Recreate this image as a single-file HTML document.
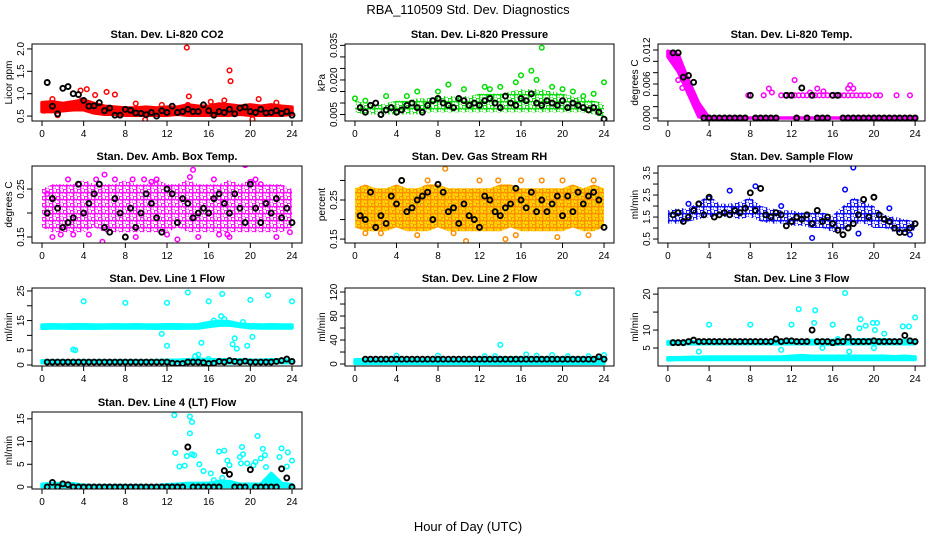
<!DOCTYPE html>
<html><head><meta charset="utf-8"><style>
html,body{margin:0;padding:0;background:#fff;}
svg{display:block;font-family:"Liberation Sans",sans-serif;}
</style></head><body>
<svg id="chart" width="936" height="540" viewBox="0 0 936 540" xmlns="http://www.w3.org/2000/svg">
<text x="468" y="14" text-anchor="middle" font-size="13">RBA_110509  Std. Dev. Diagnostics</text>
<text x="468" y="531" text-anchor="middle" font-size="13">Hour of Day (UTC)</text>
</svg>
<script>
// ---- shared data ----
const xTicks = [0,4,8,12,16,20,24];
const blackHours = [0.5,1,1.5,2,2.5,3,3.5,4,4.5,5,5.5,6,6.5,7,7.5,8,8.5,9,9.5,10,10.5,11,11.5,12,12.5,13,13.5,14,14.5,15,15.5,16,16.5,17,17.5,18,18.5,19,19.5,20,20.5,21,21.5,22,22.5,23,23.5,24];
const bandHours = [0,1,2,3,4,5,6,7,8,9,10,11,12,13,14,15,16,17,18,19,20,21,22,23,24];

// CO2
const co2Ticks = [0.5,1.0,1.5,2.0];
const co2TickLabels = ["0.5","1.0","1.5","2.0"];
const co2BandLo = [0.6,0.6,0.62,0.64,0.64,0.57,0.54,0.54,0.52,0.52,0.52,0.52,0.52,0.54,0.52,0.52,0.52,0.52,0.52,0.54,0.52,0.52,0.52,0.52,0.54];
const co2BandHi = [0.8,0.82,0.78,0.82,0.86,0.78,0.72,0.7,0.68,0.68,0.7,0.68,0.7,0.7,0.75,0.72,0.72,0.77,0.75,0.72,0.75,0.72,0.75,0.72,0.7];
const co2PtX = [13.9,14.1,18.0,18.1,5.1,6.2,4.3,3.7,20.8,9.9,20.2,3.8,7.0,1.5,17.5,14.0,11.5,0.2,1.0,22.5,16.2,9.0];
const co2PtY = [2.03,0.94,1.52,1.28,0.97,1.04,1.1,1.07,0.88,0.42,0.43,0.85,0.98,0.52,0.85,0.75,0.75,0.62,0.88,0.8,0.82,0.78];
const co2Black = [1.25,0.72,0.55,1.12,1.16,1.0,0.98,0.85,0.72,0.73,0.8,0.62,0.68,0.52,0.52,0.65,0.63,0.57,0.56,0.53,0.58,0.5,0.62,0.58,0.72,0.58,0.6,0.65,0.6,0.6,0.75,0.62,0.52,0.6,0.58,0.65,0.55,0.68,0.7,0.6,0.58,0.65,0.57,0.58,0.62,0.56,0.6,0.52];

// Pressure
const presTicks = [0.005,0.010,0.015,0.020,0.025,0.030,0.035];
const presTickLabels = ["0.005","","","0.020","","","0.035"];
const presBandLo = [0.006,0.005,0.005,0.005,0.005,0.005,0.005,0.006,0.006,0.006,0.006,0.006,0.006,0.006,0.006,0.006,0.006,0.006,0.006,0.006,0.006,0.006,0.006,0.005,0.004];
const presBandHi = [0.011,0.01,0.009,0.01,0.011,0.011,0.012,0.012,0.013,0.013,0.013,0.013,0.014,0.014,0.014,0.015,0.016,0.016,0.016,0.015,0.014,0.013,0.012,0.011,0.01];
const presPtX = [18,17,16,24,9,12.5,6,20,14,22,0,17.5,15.5,19,3,10.5,21,8,23,13,5,1];
const presPtY = [0.034,0.024,0.022,0.019,0.018,0.017,0.015,0.016,0.017,0.013,0.012,0.02,0.019,0.017,0.013,0.016,0.015,0.015,0.014,0.016,0.013,0.011];
const presBlack = [0.008,0.006,0.009,0.01,0.005,0.007,0.008,0.006,0.007,0.009,0.01,0.008,0.006,0.009,0.011,0.012,0.01,0.009,0.008,0.012,0.011,0.009,0.01,0.009,0.011,0.012,0.01,0.008,0.013,0.01,0.009,0.012,0.011,0.014,0.01,0.009,0.011,0.01,0.009,0.011,0.008,0.01,0.009,0.008,0.007,0.008,0.006,0.003];

// Li-820 Temp
const tempTicks = [0,0.002,0.004,0.006,0.008,0.010,0.012];
const tempTickLabels = ["0.000","","","0.006","","","0.012"];
const tempBandLo = [0.0108,0.0082,0.0042,0.0002,0,0,0,0,0,0,0,0,0,0,0,0,0,0,0,0,0,0,0,0,0];
const tempBandHi = [0.0118,0.0112,0.0066,0.0026,0,0,0,0,0,0,0,0,0,0,0,0,0,0,0,0,0,0,0,0,0];
const tempPtX = [7.8,9.3,11,11.4,11.8,12.3,12.7,13.1,13.5,13.9,14.3,14.7,15.1,15.5,15.9,16.3,16.7,17.1,17.5,17.9,18.3,18.7,19.1,19.5,20.2,20.6,22.2,23.5,12.3,9.8,10.1,14.5,15.1,13.8,17.5,17.7,18,1.0,1.4,1.9];
const tempPtY = [0.004,0.004,0.004,0.004,0.004,0.004,0.004,0.004,0.004,0.004,0.004,0.004,0.004,0.004,0.004,0.004,0.004,0.004,0.004,0.004,0.004,0.004,0.004,0.004,0.004,0.004,0.004,0.004,0.0067,0.0052,0.0045,0.0052,0.0047,0.0045,0.0052,0.0058,0.0052,0.0067,0.0053,0.0056];
const tempBlack = [0.0115,0.0115,0.0072,0.0075,0.0063,null,0,0,0,0,0,0,0,0,0,0.004,0,0,0,0,0,null,0.004,0.004,0,0.0053,0,0.004,0,0,0,0.004,0.004,0,0,0,0,0,0,0,0,0,0,0,0,0,0,0];

// Amb Box Temp
const ambTicks = [0.15,0.20,0.25];
const ambTickLabels = ["0.15","","0.25"];
const ambBandLo = [0.17,0.16,0.16,0.16,0.16,0.17,0.16,0.16,0.16,0.16,0.16,0.16,0.16,0.17,0.16,0.16,0.16,0.16,0.16,0.16,0.16,0.16,0.16,0.16,0.17];
const ambBandHi = [0.25,0.26,0.26,0.26,0.27,0.26,0.26,0.26,0.27,0.26,0.26,0.27,0.26,0.26,0.27,0.26,0.26,0.26,0.27,0.26,0.27,0.26,0.26,0.26,0.25];
const ambPtX = [6,5.8,1,1.8,3,4.5,7,8.7,9.8,10.5,13,14.5,14.2,15,17,18,19.5,20.5,21,22.5,23.8,12,16.5,11,9,2.5,0.5,5.2,17.8,20];
const ambPtY = [0.28,0.14,0.15,0.155,0.155,0.155,0.27,0.27,0.27,0.265,0.145,0.29,0.275,0.15,0.155,0.15,0.3,0.27,0.26,0.15,0.16,0.155,0.27,0.27,0.15,0.27,0.24,0.27,0.155,0.265];
const ambBlack = [0.2,0.23,0.21,0.17,0.18,0.19,0.26,0.2,0.22,0.24,0.26,0.17,0.16,0.23,0.2,0.15,0.21,0.17,0.2,0.24,0.22,0.19,0.16,0.25,0.24,0.18,0.23,0.22,0.19,0.2,0.21,0.2,0.23,0.24,0.22,0.2,0.24,0.21,0.18,0.26,0.21,0.18,0.22,0.2,0.23,0.19,0.21,0.18];

// Gas Stream RH
const rhTicks = [0.15,0.20,0.25,0.30];
const rhTickLabels = ["0.15","","0.25",""];
const rhBandLo = [0.18,0.17,0.17,0.17,0.18,0.17,0.17,0.17,0.18,0.17,0.17,0.17,0.17,0.17,0.17,0.18,0.17,0.17,0.17,0.17,0.17,0.18,0.17,0.17,0.18];
const rhBandHi = [0.28,0.29,0.28,0.28,0.29,0.28,0.28,0.29,0.29,0.28,0.28,0.28,0.28,0.28,0.29,0.29,0.28,0.28,0.28,0.28,0.28,0.29,0.28,0.29,0.28];
const rhPtX = [8.7,10.7,14.5,15.5,19.5,1,4.5,12,16,7,20,22.5,2.5,6,18,13.8,9.5,23];
const rhPtY = [0.33,0.145,0.15,0.16,0.155,0.165,0.3,0.3,0.3,0.3,0.3,0.16,0.165,0.16,0.3,0.3,0.165,0.3];
const rhBlack = [0.21,0.2,0.27,0.18,0.21,0.19,0.26,0.24,0.3,0.22,0.23,0.25,0.26,0.27,0.2,0.29,0.27,0.22,0.23,0.19,0.24,0.21,0.2,0.18,0.26,0.25,0.22,0.21,0.23,0.24,0.28,0.25,0.23,0.27,0.22,0.25,0.22,0.24,0.26,0.21,0.26,0.22,0.27,0.24,0.26,0.27,0.25,0.18];

// Sample Flow
const sfTicks = [0.5,1.0,1.5,2.0,2.5,3.0,3.5];
const sfTickLabels = ["0.5","","1.5","","2.5","","3.5"];
const sfBandLo = [1.2,1.2,1.3,1.4,1.5,1.5,1.5,1.4,1.5,1.3,1.2,1.2,1.1,1.1,1.0,1.0,0.8,0.9,1.2,1.2,1.0,1.0,0.8,0.8,0.9];
const sfBandHi = [1.8,1.9,1.9,2.2,2.5,2.1,2.1,2.2,2.4,2.0,1.9,1.8,1.8,1.7,1.7,1.7,1.6,2.0,2.4,2.2,2.0,1.6,1.5,1.4,1.3];
const sfPtX = [18,6,17.2,8.5,14,18.5,11,21.5,2,23.5];
const sfPtY = [3.75,2.7,2.75,2.9,0.55,0.75,2.0,1.9,2.1,0.7];
const sfBlack = [1.6,1.7,1.3,1.5,1.8,2.1,1.6,2.4,1.5,1.6,1.7,1.6,1.8,1.7,1.9,2.6,1.8,2.8,1.6,1.5,1.7,1.6,1.1,1.3,1.5,1.4,1.6,1.2,1.8,1.3,1.5,1.2,0.9,0.7,1.0,1.2,1.6,2.3,1.5,2.4,1.6,1.4,1.3,1.0,0.8,0.8,1.0,1.2];

// Line 1 Flow
const l1Ticks = [0,5,10,15,20,25];
const l1TickLabels = ["0","5","","15","","25"];
const l1BandLo = [12.4,12.5,12.5,12.4,12.5,12.4,12.5,12.5,12.5,12.5,12.5,12.4,12.5,12.4,12.5,12.5,13.0,13.4,13.5,13.0,12.6,12.5,12.5,12.5,12.5];
const l1BandHi = [13.5,13.6,13.5,13.6,13.6,13.5,13.5,13.6,13.5,13.6,13.5,13.5,13.6,13.6,13.5,13.6,14.3,14.8,14.6,13.8,13.6,13.5,13.6,13.5,13.5];
const l1Band2Lo = [0.8,0.8,0.8,0.8,0.8,0.8,0.8,0.8,0.8,0.8,0.8,0.8,0.8,0.7,0.7,0.7,0.7,0.7,0.7,0.7,0.8,0.8,0.8,0.8,0.8];
const l1Band2Hi = [1.4,1.4,1.4,1.4,1.4,1.4,1.4,1.4,1.4,1.4,1.4,1.5,1.6,1.6,1.8,2.0,1.8,1.8,1.8,1.8,1.6,1.6,1.8,1.8,1.6];
const l1PtX = [4,8,12,14,16,17.3,20,21.7,24,12,3.2,3,15.3,16.5,17.2,17.5,18.5,18.3,18.7,19.7,20.2,19.3,11.5,15,14.7,16];
const l1PtY = [21.5,21,21,24.5,21.5,24,22,23.5,21.5,6.5,5,5.2,7.5,15,16.5,15.5,9,7,5.5,6.5,9.5,14.5,10.5,3.5,3,2];
const l1Black = [1,1,1,1,1,1,1,1,1,1,1,1,1,1,1,1,1,1,1,1,1,1,1,1,0.6,0.5,0.5,1,1,1,0.8,0.5,0.6,1.2,1,1.5,1.2,1,1.3,1,1,1,1,1,1.2,1.5,2,1.2];

// Line 2 Flow
const l2Ticks = [0,20,40,60,80,100,120];
const l2TickLabels = ["0","","40","","80","","120"];
const l2BandLo = [1,1,1,1,1,1,1,1,1,1,1,1,1,1,1,1,1,1,1,1,1,1,1,1,1];
const l2BandHi = [7,7,7,7,7,7,7,7,7,7,7,7,9,9,10,10,10,10,10,10,10,10,10,10,11];
const l2PtX = [21.5,14,16.5,4,8,19,24,12.5,13.5,17.5,20.5,22.5];
const l2PtY = [118,32,16,14,14,15,15,13,13,14,13,13];
const l2Black = [null,8,8,8,8,8,8,8,8,8,8,8,8,8,8,8,8,8,8,8,8,8,8,8,8,8,8,8,8,8,8,8,8,8,8,8,8,8,8,8,8,8,8,8,8,8,12,8];

// Line 3 Flow
const l3Ticks = [5,10,15,20];
const l3TickLabels = ["5","10","","20"];
const l3BandLo = [6.1,6.2,6.2,6.2,6.2,6.2,6.2,6.2,6.2,6.2,6.2,6.2,6.2,6.2,6.2,6.2,6.0,6.2,6.2,6.2,6.2,6.2,6.2,6.2,6.2];
const l3BandHi = [6.8,6.8,6.8,6.8,6.8,6.8,6.8,6.8,6.8,6.8,6.8,7.0,7.0,7.1,7.1,7.1,7.1,7.3,7.3,7.3,7.3,7.3,7.1,7.1,7.1];
const l3Band2Lo = [1.7,1.8,1.8,1.8,1.8,1.8,1.8,1.8,1.8,1.8,1.8,1.8,1.8,1.8,1.8,1.8,1.8,1.8,1.8,1.8,1.8,1.8,1.8,1.8,1.8];
const l3Band2Hi = [2.3,2.3,2.4,2.4,2.5,2.5,2.5,2.5,2.5,2.5,2.5,2.5,2.7,2.9,2.7,2.7,2.7,2.7,2.7,2.7,2.7,2.7,2.6,2.7,2.5];
const l3PtX = [4,8,12,12.7,14.3,14.2,16,17.2,18.7,19.2,19.9,20.3,20.1,18.6,22.8,23.4,24,3,11,15,16.5,17.6,20,21];
const l3PtY = [11.5,11.5,11.5,15.8,15.5,12,11.5,20.3,13,11.2,12,12,10,10.5,11,11,13.5,4,4.5,5,7.5,4,5,9];
const l3Black = [6.5,6.5,6.5,6.8,7.2,6.8,6.8,6.8,6.8,6.8,6.8,6.8,6.8,6.8,6.8,6.8,6.8,6.8,6.8,6.8,7.5,6.8,7,7,6.8,6.8,6.8,10,6.8,6.8,6.8,6.5,6.8,6.8,8,6.8,6.8,6.8,6.8,7,6.8,6.8,6.8,6.8,6.8,8.5,7,6.8];

// Line 4 (LT) Flow
const l4Ticks = [0,5,10,15];
const l4TickLabels = ["0","5","10","15"];
const l4BandLo = [0.1,0.1,0.1,0.1,0.1,0.1,0.1,0.1,0.1,0.1,0.1,0.1,0.1,0.1,0.1,0.1,0.1,0.1,0.1,0.1,0.1,0.1,0.1,0.1,0.1];
const l4BandHi = [0.6,0.8,0.7,0.7,0.4,0.3,0.3,0.3,0.3,0.3,0.3,0.3,0.5,0.6,0.8,0.8,0.8,1.2,1.2,0.6,0.6,0.6,3.0,0.8,0.5];
const l4PtX = [12.7,14.2,14.4,14.2,12.8,13.2,13.7,13.9,14.4,14.6,15.1,15.5,16.2,17,17.5,17.8,18,19,19.2,19.3,19.1,19.7,20.3,20.5,20.7,21,21.2,21.4,21.5,21.7,22.8,23,23.5,23.6,24,17.3,16.5];
const l4PtY = [15.8,15.5,14.3,11.8,7.5,4.5,4.7,6.8,7.2,7,5,3.5,3,7.8,8,5.8,4.8,6.6,8.8,7.2,5.2,5.2,4.8,5.5,11.2,6.3,8.4,7,4.4,1.2,6.6,8.5,4.5,7.6,5.8,2,1.5];
const l4Black = [0,1.0,0,0.7,0.5,0,0,0,0,0,0,0,0,0,0,0,0,0,0,0,0,0,0,0,0,0,0,8.8,0,0,0,0,0,0,3.6,2.8,0,0,0,3.8,0,0,0,0,0,4.0,2.0,0];

// ---- layout (not data) ----
const colX = [[32,302],[345,614],[658,925]];
const rowY = [[44,121],[166,243],[288,366],[412,489]];
const panels = [
 {name:"li820-co2",title:"Stan. Dev. Li-820 CO2",ylab:"Licor ppm",c:0,r:0,ylim:[0.39,2.11],ticks:co2Ticks,labels:co2TickLabels,bands:[[co2BandLo,co2BandHi]],px:co2PtX,py:co2PtY,black:co2Black,col:"#ff0000",pat:false},
 {name:"li820-pressure",title:"Stan. Dev. Li-820 Pressure",ylab:"kPa",c:1,r:0,ylim:[0.0022,0.0356],ticks:presTicks,labels:presTickLabels,bands:[[presBandLo,presBandHi]],px:presPtX,py:presPtY,black:presBlack,col:"#00dd00",pat:true},
 {name:"li820-temp",title:"Stan. Dev. Li-820 Temp.",ylab:"degrees C",c:2,r:0,ylim:[-0.00053,0.01306],ticks:tempTicks,labels:tempTickLabels,bands:[[tempBandLo,tempBandHi]],px:tempPtX,py:tempPtY,black:tempBlack,col:"#ff00ff",pat:false},
 {name:"amb-box-temp",title:"Stan. Dev. Amb. Box Temp.",ylab:"degrees C",c:0,r:1,ylim:[0.1375,0.298],ticks:ambTicks,labels:ambTickLabels,bands:[[ambBandLo,ambBandHi]],px:ambPtX,py:ambPtY,black:ambBlack,col:"#ff00ff",pat:true},
 {name:"gas-stream-rh",title:"Stan. Dev. Gas Stream RH",ylab:"percent",c:1,r:1,ylim:[0.14,0.337],ticks:rhTicks,labels:rhTickLabels,bands:[[rhBandLo,rhBandHi]],px:rhPtX,py:rhPtY,black:rhBlack,col:"#ff8c00",pat:true,fill:"#ffd700"},
 {name:"sample-flow",title:"Stan. Dev. Sample Flow",ylab:"ml/min",c:2,r:1,ylim:[0.32,3.82],ticks:sfTicks,labels:sfTickLabels,bands:[[sfBandLo,sfBandHi]],px:sfPtX,py:sfPtY,black:sfBlack,col:"#0000ff",pat:true},
 {name:"line1-flow",title:"Stan. Dev. Line 1 Flow",ylab:"ml/min",c:0,r:2,ylim:[-0.34,26.0],ticks:l1Ticks,labels:l1TickLabels,bands:[[l1BandLo,l1BandHi],[l1Band2Lo,l1Band2Hi]],px:l1PtX,py:l1PtY,black:l1Black,col:"#00ffff",pat:false},
 {name:"line2-flow",title:"Stan. Dev. Line 2 Flow",ylab:"ml/min",c:1,r:2,ylim:[-3.3,126.7],ticks:l2Ticks,labels:l2TickLabels,bands:[[l2BandLo,l2BandHi]],px:l2PtX,py:l2PtY,black:l2Black,col:"#00ffff",pat:false},
 {name:"line3-flow",title:"Stan. Dev. Line 3 Flow",ylab:"ml/min",c:2,r:2,ylim:[0.0,21.7],ticks:l3Ticks,labels:l3TickLabels,bands:[[l3BandLo,l3BandHi],[l3Band2Lo,l3Band2Hi]],px:l3PtX,py:l3PtY,black:l3Black,col:"#00ffff",pat:false},
 {name:"line4-flow",title:"Stan. Dev. Line 4 (LT) Flow",ylab:"ml/min",c:0,r:3,ylim:[-0.44,16.5],ticks:l4Ticks,labels:l4TickLabels,bands:[[l4BandLo,l4BandHi]],px:l4PtX,py:l4PtY,black:l4Black,col:"#00ffff",pat:false}
];
const NS="http://www.w3.org/2000/svg";
const svg=document.getElementById('chart');
function mk(tag,attrs,parent){const e=document.createElementNS(NS,tag);for(const k in attrs)e.setAttribute(k,attrs[k]);parent.appendChild(e);return e;}
const defs=mk('defs',{},svg);
panels.forEach(p=>{
  const [x0,x1]=colX[p.c],[y0,y1]=rowY[p.r];
  const xs=v=>x0+(v+0.96)/25.92*(x1-x0);
  const ys=v=>y1-(v-p.ylim[0])/(p.ylim[1]-p.ylim[0])*(y1-y0);
  let bandFill=p.fill||p.col;
  if(p.pat){
    const pt=mk('pattern',{id:'pat-'+p.name,width:7,height:7,patternUnits:'userSpaceOnUse'},defs);
    if(p.fill) mk('rect',{x:0,y:0,width:7,height:7,fill:p.fill},pt);
    mk('circle',{cx:2,cy:2,r:2,fill:'none',stroke:p.col,'stroke-width':1.4},pt);
    mk('circle',{cx:5.5,cy:5.5,r:2,fill:'none',stroke:p.col,'stroke-width':1.4},pt);
    bandFill='url(#pat-'+p.name+')';
  }
  const g=mk('g',{},svg);
  
  
  const clip=mk('clipPath',{id:'clip-'+p.name},g);
  mk('rect',{x:x0,y:y0,width:x1-x0,height:y1-y0},clip);
  const plot=mk('g',{'clip-path':'url(#clip-'+p.name+')'},g);
  
  
  p.bands.forEach(([lo,hi])=>{
    let pts=[];
    bandHours.forEach((h,i)=>{if(hi[i]!=null)pts.push(xs(h).toFixed(1)+','+ys(hi[i]).toFixed(1));});
    for(let i=bandHours.length-1;i>=0;i--){if(lo[i]!=null)pts.push(xs(bandHours[i]).toFixed(1)+','+ys(lo[i]).toFixed(1));}
    const b=mk('polygon',{points:pts.join(' '),fill:bandFill,stroke:p.pat?'none':p.col,'stroke-width':3.5,'stroke-linejoin':'round'},plot);
    
    
  });
  p.px.forEach((v,i)=>{
    const c=mk('circle',{cx:xs(v),cy:ys(p.py[i]),r:2.3,fill:'none',stroke:p.col,'stroke-width':1.5},plot);
    
    
  });
  p.black.forEach((v,i)=>{
    if(v==null)return;
    const c=mk('circle',{cx:xs(blackHours[i]),cy:ys(v),r:2.5,fill:'none',stroke:'#000','stroke-width':1.9},plot);
    
    
  });
  const box=mk('rect',{x:x0,y:y0,width:x1-x0,height:y1-y0,fill:'none',stroke:'#000','stroke-width':1},g);
  
  
  const t=mk('text',{x:(x0+x1)/2,y:y0-6,'text-anchor':'middle','font-size':11,'font-weight':'bold'},g);
  t.textContent=p.title;
  
  
  const xa=mk('g',{},g);
  
  
  mk('line',{x1:xs(xTicks[0]),x2:xs(xTicks[xTicks.length-1]),y1:y1,y2:y1,stroke:'#000'},xa);
  xTicks.forEach(v=>{
    mk('line',{x1:xs(v),x2:xs(v),y1:y1,y2:y1+5,stroke:'#000'},xa);
    const l=mk('text',{x:xs(v),y:y1+16,'text-anchor':'middle','font-size':10},xa);
    l.textContent=v;
    
    
  });
  const ya=mk('g',{},g);
  
  
  mk('line',{x1:x0,x2:x0,y1:ys(p.ticks[0]),y2:ys(p.ticks[p.ticks.length-1]),stroke:'#000'},ya);
  p.ticks.forEach((v,i)=>{
    const yy=ys(v);
    mk('line',{x1:x0-5,x2:x0,y1:yy,y2:yy,stroke:'#000'},ya);
    if(p.labels[i]){
      const l=mk('text',{x:0,y:0,'text-anchor':'middle','font-size':10,transform:`translate(${x0-8},${yy}) rotate(-90)`},ya);
      l.textContent=p.labels[i];
      
      
    }
  });
  const yl=mk('text',{x:0,y:0,'text-anchor':'middle','font-size':10,transform:`translate(${x0-20},${(y0+y1)/2}) rotate(-90)`},g);
  yl.textContent=p.ylab;
  
  
});
</script>
</body></html>
